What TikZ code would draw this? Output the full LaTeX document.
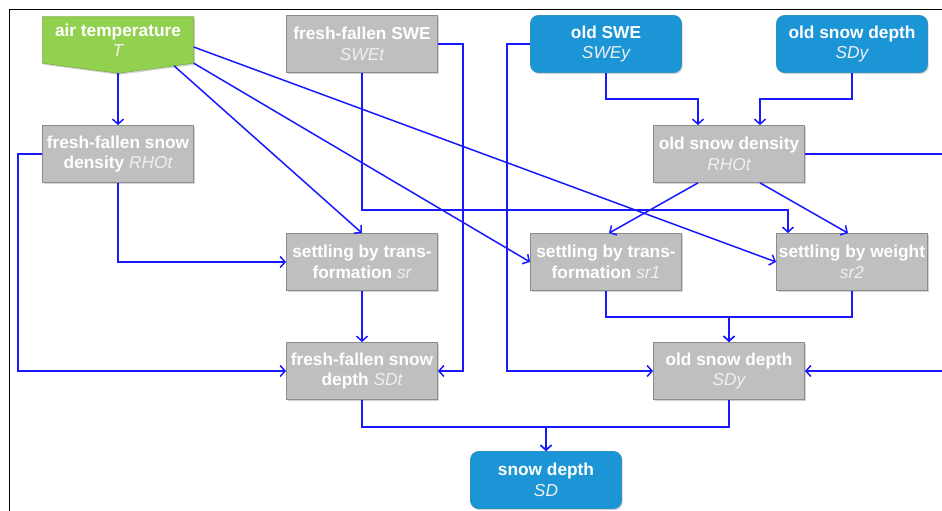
\documentclass[tikz,border=0pt]{standalone}
\usepackage{fontspec}
\setmainfont{Liberation Sans}
\usetikzlibrary{calc,shadows,backgrounds,arrows.meta}

\definecolor{boxgray}{RGB}{191,191,191}
\definecolor{edgegray}{RGB}{140,140,140}
\definecolor{boxblue}{RGB}{28,149,214}
\definecolor{boxgreen}{RGB}{146,208,80}
\definecolor{linkblue}{RGB}{25,25,255}
\definecolor{varwhite}{RGB}{240,240,240}

\newcommand{\varname}[1]{{\mdseries\itshape\color{varwhite}#1}}

\tikzset{
  boxtext/.style={rectangle, minimum width=151pt, inner sep=0pt, align=center,
    text=white, font=\fontsize{17.3}{20.5}\selectfont\bfseries},
  softshadow/.style={drop shadow={shadow xshift=1.2pt, shadow yshift=-1.6pt, opacity=.35}},
  graybox/.style={boxtext, minimum height=57pt, softshadow,
    fill=boxgray, draw=edgegray, line width=0.8pt},
  bluebox/.style={boxtext, minimum height=57pt, softshadow, rounded corners=8pt,
    fill=boxblue, draw=boxblue!80!gray, line width=0.8pt},
  greenbox/.style={boxtext, minimum height=46pt},
  link/.style={draw=linkblue, line width=1.5pt, ->},
}

\begin{document}
\begin{tikzpicture}[%
      x=1pt, y=-1pt,
      >={Straight Barb[length=5pt,width=11pt]},
      ]
      \useasboundingbox (0,0) rectangle (942,511);
      \clip (0,0) rectangle (942,511);
      \draw [black, line width=0.8pt] (9,511) -- (9,9) -- (942,9);

      % inputs
      \node [greenbox] (T) at (118,40) {air temperature\\\varname{T}};
      \coordinate (Ttip) at ($(T.south)+(0,10)$);
      \begin{pgfonlayer}{background}
        \fill [boxgreen, draw=boxgreen!85!black, line width=0.6pt, softshadow]
          (T.north west) -- (T.north east) -- (T.south east) -- (Ttip) -- (T.south west) -- cycle;
      \end{pgfonlayer}
      \node [graybox] (SWEt) at (362,44) {fresh-fallen SWE\\\varname{SWEt}};
      \node [bluebox] (SWEy) at (606,44) {old SWE\\\varname{SWEy}};
      \node [bluebox] (SDyin) at (852,44) {old snow depth\\\varname{SDy}};

      % densities
      \node [graybox] (RHOt) at (118,154) {fresh-fallen snow\\density \varname{RHOt}};
      \node [graybox] (RHOy) at (729,154) {old snow density\\\varname{RHOt}};

      % settling
      \node [graybox] (sr) at (362,262) {settling by trans-\\formation \varname{sr}};
      \node [graybox] (sr1) at (606,262) {settling by trans-\\formation \varname{sr1}};
      \node [graybox] (sr2) at (852,262) {settling by weight\\\varname{sr2}};

      % depths
      \node [graybox] (SDt) at (362,371) {fresh-fallen snow\\depth \varname{SDt}};
      \node [graybox] (SDy) at (729,371) {old snow depth\\\varname{SDy}};
      \node [bluebox] (SD) at (546,480) {snow depth\\\varname{SD}};

      % links from air temperature
      \draw [link] (Ttip) -- (RHOt.north);
      \draw [link] ($(T.south east)!.26!(Ttip)$) -- (sr.north);
      \draw [link] (T.south east) -- (sr1.west);
      \draw [link] ([yshift=-7pt]T.east) -- (sr2.west);

      % links from fresh-fallen SWE
      \draw [link] (SWEt.east) -- ++(25,0) |- (SDt.east);
      \draw [link] (SWEt.south) -- ++(0,137) -| ([xshift=-64pt]sr2.north);

      % links from fresh-fallen density
      \draw [link] (RHOt.south) |- (sr.west);
      \draw [link] (RHOt.west) -- ++(-24,0) |- (SDt.west);
      \draw [link] (sr.south) -- (SDt.north);

      % old snow
      \draw [link] (SWEy.west) -- ++(-23,0) |- (SDy.west);
      \draw [link] (SWEy.south) -- ++(0,26) -| ([xshift=-31pt]RHOy.north);
      \draw [link] (SDyin.south) -- ++(0,26) -| ([xshift=31pt]RHOy.north);
      \draw [link] (RHOy.east) -- ++(170,0) |- (SDy.east);
      \draw [link] ([xshift=-31pt]RHOy.south) -- ([xshift=3pt]sr1.north);
      \draw [link] ([xshift=31pt]RHOy.south) -- ([xshift=-4pt]sr2.north);
      \draw [link] (sr1.south) -- ++(0,26) -| (SDy.north);
      \draw [link] (sr2.south) -- ++(0,26) -| (SDy.north);

      % total depth
      \draw [link] (SDt.south) -- ++(0,27) -| (SD.north);
      \draw [link] (SDy.south) -- ++(0,27) -| (SD.north);
\end{tikzpicture}
\end{document}
